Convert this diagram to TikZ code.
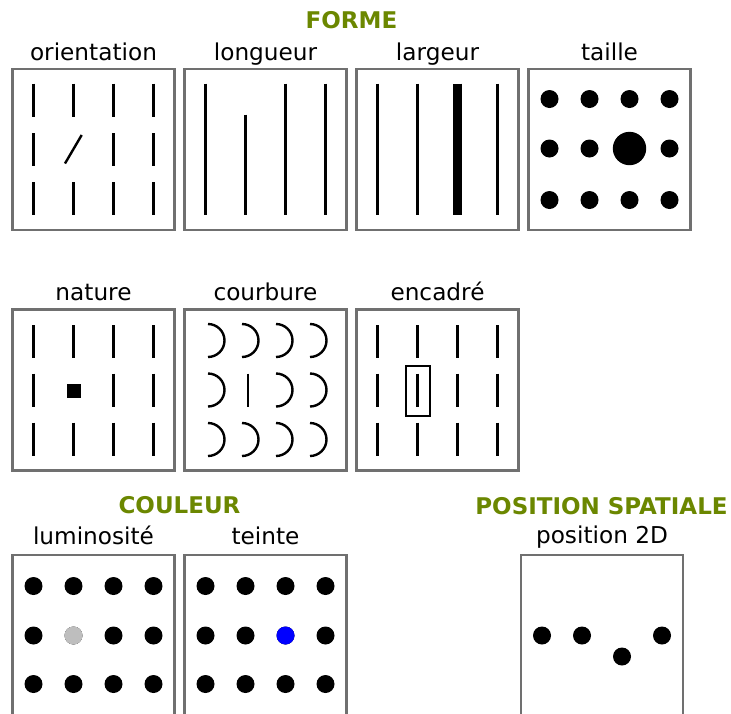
\documentclass[tikz,border=0pt]{standalone}
\usepackage{fontspec}
\setmainfont{DejaVu Sans}
\definecolor{titlegreen}{RGB}{107,135,0}
\definecolor{boxgray}{RGB}{112,112,112}
\definecolor{lightdot}{RGB}{190,190,190}
\definecolor{huedot}{RGB}{0,0,255}
\tikzset{
  panel/.style={draw=boxgray, line width=2.6pt, fill=white, minimum width=162pt, minimum height=161pt, inner sep=0pt},
  lbl/.style={anchor=base, inner sep=0pt, font=\fontsize{23.2}{27}\selectfont},
  ttl/.style={anchor=base, inner sep=0pt, text=titlegreen, font=\fontsize{23}{27}\selectfont\bfseries},
  bar/.style={line width=2.4pt},
  dot/.style={fill=black},
}
\begin{document}
\begin{tikzpicture}[x=1pt,y=-1pt]
\useasboundingbox (0,0) rectangle (731,713);
\clip (0,0) rectangle (731,713);

% titles
\node[ttl] (tforme) at (351.5,28.3) {FORME};
\node[ttl] (tcouleur) at (179.5,513.5) {COULEUR};
\node[ttl] (tposition) at (601.5,514.5) {POSITION SPATIALE};

% labels
\node[lbl] (lorient) at (93.5,60) {orientation};
\node[lbl] (llong) at (265.5,60) {longueur};
\node[lbl] (llarg) at (437.5,60) {largeur};
\node[lbl] (ltaille) at (609.5,60) {taille};
\node[lbl] (lnature) at (93.5,300) {nature};
\node[lbl] (lcourb) at (265.5,300) {courbure};
\node[lbl] (lencad) at (437.5,300) {encadré};
\node[lbl] (llum) at (93.5,544) {luminosité};
\node[lbl] (lteinte) at (265.5,544) {teinte};
\node[lbl] (lpos) at (602,543.5) {position 2D};

% panels
\node[panel] (orient) at (93.5,149.5) {};
\node[panel] (long) at (265.5,149.5) {};
\node[panel] (larg) at (437.5,149.5) {};
\node[panel] (taille) at (609.5,149.5) {};
\node[panel] (nature) at (93.5,390) {};
\node[panel] (courb) at (265.5,390) {};
\node[panel] (encad) at (437.5,390) {};
\node[panel] (lum) at (93.5,635.5) {};
\node[panel] (teinte) at (265.5,635.5) {};
\node[panel] (pos) at (602,635.5) {};

% orientation
\foreach \c in {-60,-20,20,60}{
  \foreach \r in {-49.5,49}{
    \draw[bar] ([shift={(\c,\r-16.5)}]orient.center) -- ([shift={(\c,\r+16.5)}]orient.center);
  }
}
\foreach \c in {-60,20,60}{
  \draw[bar] ([shift={(\c,-16.5)}]orient.center) -- ([shift={(\c,16.5)}]orient.center);
}
\draw[bar] ([shift={(-28.5,14)}]orient.center) -- ([shift={(-11.8,-14.5)}]orient.center);

% longueur
\foreach \c in {-60,20,60}{
  \draw[bar] ([shift={(\c,-66)}]long.center) -- ([shift={(\c,65.5)}]long.center);
}
\draw[bar] ([shift={(-20,-35)}]long.center) -- ([shift={(-20,65.5)}]long.center);

% largeur
\foreach \c in {-60,-20,60}{
  \draw[bar] ([shift={(\c,-66)}]larg.center) -- ([shift={(\c,65.5)}]larg.center);
}
\draw[line width=9pt] ([shift={(20,-66)}]larg.center) -- ([shift={(20,65.5)}]larg.center);

% taille
\foreach \c in {-60,-20,20,60}{
  \foreach \r in {-50.5,50.5}{
    \fill[dot] ([shift={(\c,\r)}]taille.center) circle[radius=9pt];
  }
}
\foreach \c in {-60,-20,60}{
  \fill[dot] ([shift={(\c,-1)}]taille.center) circle[radius=9pt];
}
\fill[dot] ([shift={(20,-1)}]taille.center) circle[radius=16.7pt];

% nature
\foreach \c in {-60,-20,20,60}{
  \foreach \r in {-48.5,49}{
    \draw[bar] ([shift={(\c,\r-16.5)}]nature.center) -- ([shift={(\c,\r+16.5)}]nature.center);
  }
}
\foreach \c in {-60,20,60}{
  \draw[bar] ([shift={(\c,-16.5)}]nature.center) -- ([shift={(\c,16.5)}]nature.center);
}
\fill ([shift={(-26.7,-6.5)}]nature.center) rectangle ([shift={(-12.7,7.5)}]nature.center);

% courbure
\foreach \c in {-57.5,-23.5,10.5,44.5}{
  \foreach \r in {-49.5,49.5}{
    \draw[bar] ([shift={(\c,\r-16.5)}]courb.center) arc[start angle=90,end angle=-90,radius=16.5pt];
  }
}
\foreach \c in {-57.5,10.5,44.5}{
  \draw[bar] ([shift={(\c,-16.5)}]courb.center) arc[start angle=90,end angle=-90,radius=16.5pt];
}
\draw[bar] ([shift={(-17.5,-16.5)}]courb.center) -- ([shift={(-17.5,16.5)}]courb.center);

% encadre
\foreach \c in {-60,-20,20,60}{
  \foreach \r in {-48.5,49}{
    \draw[bar] ([shift={(\c,\r-16.5)}]encad.center) -- ([shift={(\c,\r+16.5)}]encad.center);
  }
  \draw[bar] ([shift={(\c,-16.5)}]encad.center) -- ([shift={(\c,16.5)}]encad.center);
}
\draw[line width=2pt] ([shift={(-32,-24.5)}]encad.center) rectangle ([shift={(-8,25.5)}]encad.center);

% luminosite
\foreach \c in {-60,-20,20,60}{
  \foreach \r in {-49.5,0,48.5}{
    \fill[dot] ([shift={(\c,\r)}]lum.center) circle[radius=9pt];
  }
}
\fill[lightdot] ([shift={(-20,0)}]lum.center) circle[radius=9pt];

% teinte
\foreach \c in {-60,-20,20,60}{
  \foreach \r in {-49.5,0,48.5}{
    \fill[dot] ([shift={(\c,\r)}]teinte.center) circle[radius=9pt];
  }
}
\fill[huedot] ([shift={(20,0)}]teinte.center) circle[radius=9pt];

% position 2D
\foreach \c in {-60,-20,60}{
  \fill[dot] ([shift={(\c,0)}]pos.center) circle[radius=9pt];
}
\fill[dot] ([shift={(20,21)}]pos.center) circle[radius=9pt];
\end{tikzpicture}
\end{document}
